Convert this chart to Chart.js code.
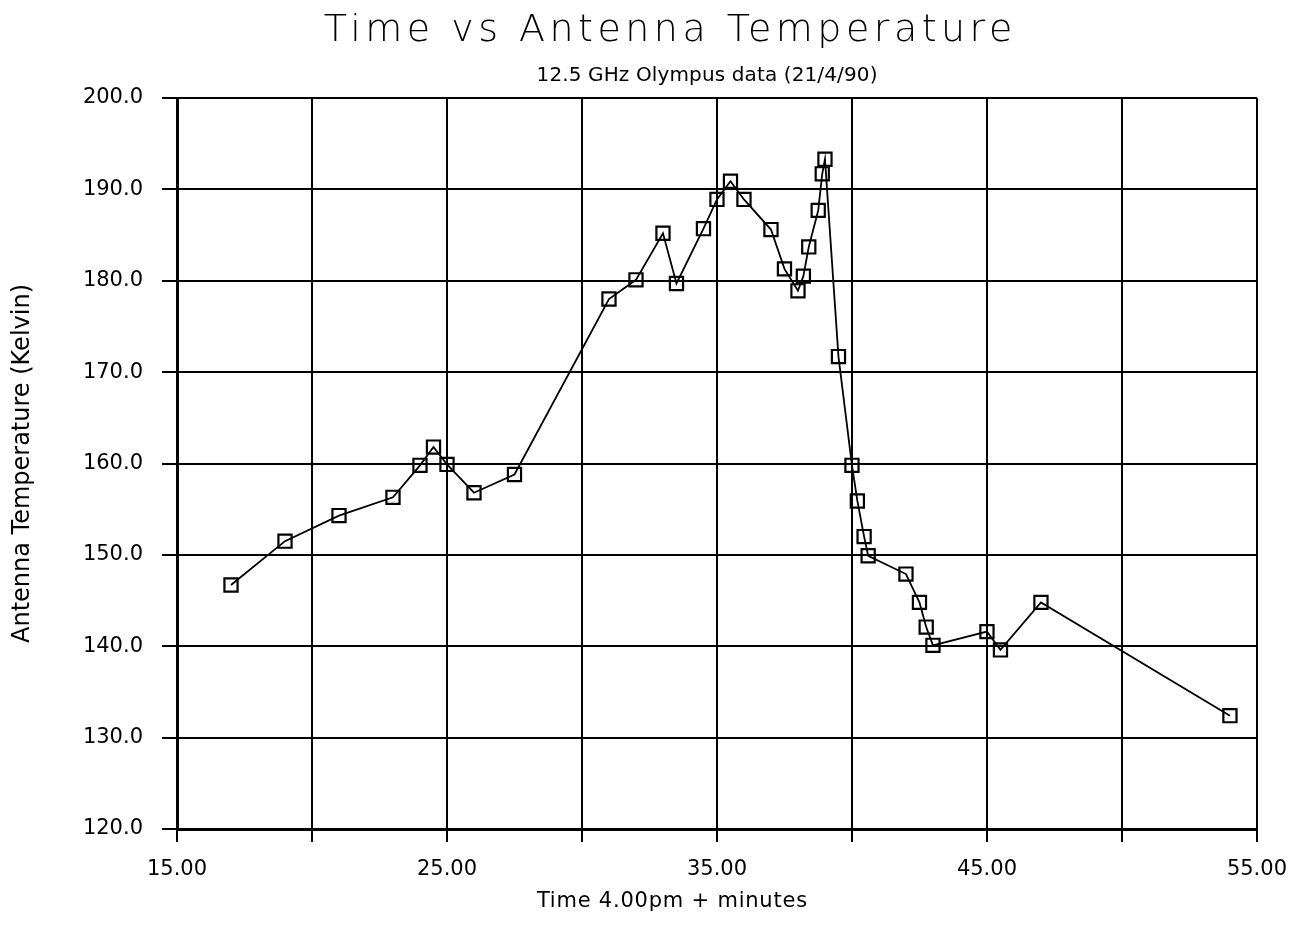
<!DOCTYPE html>
<html>
<head>
<meta charset="utf-8">
<script src="https://cdn.jsdelivr.net/npm/chart.js@4.4.1/dist/chart.umd.min.js"></script>
<style>
  body { margin:0; background:#fff; }
  #wrap { width:1302px; height:932px; }
</style>
</head>
<body>
<div id="wrap"><canvas id="tempChart" width="1302" height="932"></canvas></div>
<script>
// minutes after 4.00pm
const minutes = [17, 19, 21, 23, 24, 24.5, 25, 26, 27.5, 31, 32, 33, 33.5, 34.5, 35, 35.5, 36, 37, 37.5, 38, 38.2, 38.4, 38.75, 38.9, 39, 39.5, 40, 40.2, 40.45, 40.6, 42, 42.5, 42.75, 43, 45, 45.5, 47, 54];
// antenna temperature (Kelvin)
const temps = [146.7, 151.5, 154.3, 156.3, 159.8, 161.8, 159.9, 156.8, 158.8, 178.0, 180.1, 185.2, 179.7, 185.7, 188.9, 190.9, 188.9, 185.6, 181.3, 178.9, 180.5, 183.7, 187.7, 191.7, 193.3, 171.7, 159.8, 155.9, 152.0, 149.9, 147.9, 144.8, 142.1, 140.1, 141.6, 139.6, 144.8, 132.4];
const xLabelled = [15, 25, 35, 45, 55];

const titleText = "Time vs Antenna Temperature";
const subText = "12.5 GHz Olympus data (21/4/90)";
const xTitle = "Time 4.00pm + minutes";
const yTitle = "Antenna Temperature (Kelvin)";

const pts = minutes.map((m, i) => ({x: m, y: temps[i]}));

// spread a string out to a given width (the plotter font is very wide)
function wideText(ctx, txt, cx, y, width) {
  ctx.letterSpacing = "0px";
  const w = ctx.measureText(txt).width;
  const sp = Math.max(0, (width - w) / txt.length);
  ctx.letterSpacing = sp + "px";
  ctx.fillText(txt, cx + sp / 2, y);
  ctx.letterSpacing = "0px";
}

// titles drawn by hand, the original ones are not centred on the canvas
const textPlugin = {
  id: "texts",
  afterDraw(chart) {
    const ctx = chart.ctx;
    ctx.save();
    ctx.fillStyle = "#000";
    ctx.textAlign = "center";
    ctx.textBaseline = "alphabetic";
    ctx.font = '200 38px "DejaVu Sans", sans-serif';
    wideText(ctx, titleText, 668, 41, 693);
    ctx.font = '20px "DejaVu Sans", sans-serif';
    wideText(ctx, subText, 707, 81, 341);
    ctx.font = '21px "DejaVu Sans", sans-serif';
    wideText(ctx, xTitle, 672, 907, 271);
    ctx.restore();
  }
};

new Chart(document.getElementById("tempChart").getContext("2d"), {
  type: "scatter",
  data: {
    datasets: [{
      data: pts,
      showLine: true,
      borderColor: "#000",
      borderWidth: 1.8,
      pointStyle: "rect",
      pointRadius: 9.3,
      pointBorderWidth: 2.2,
      pointBorderColor: "#000",
      pointBackgroundColor: "rgba(0,0,0,0)",
      tension: 0
    }]
  },
  options: {
    responsive: false,
    animation: false,
    layout: { padding: { top: 98, right: 45, bottom: 0, left: 0 } },
    plugins: { legend: { display: false }, tooltip: { enabled: false } },
    scales: {
      x: {
        type: "linear", min: 15, max: 55,
        afterFit(s) { s.height = 103; },
        ticks: {
          stepSize: 5, padding: 15, color: "#000",
          font: { family: "DejaVu Sans", size: 21 },
          callback: v => xLabelled.includes(v) ? v.toFixed(2) : ""
        },
        grid: { color: "#000", lineWidth: 2, tickLength: 13, tickColor: "#000" },
        border: { color: "#000", width: 3 }
      },
      y: {
        min: 120, max: 200,
        afterFit(s) { s.width = 177; },
        ticks: {
          stepSize: 10, padding: 19, color: "#000",
          font: { family: "DejaVu Sans", size: 21 },
          callback: v => v.toFixed(1)
        },
        grid: { color: "#000", lineWidth: 2, tickLength: 15, tickColor: "#000" },
        border: { color: "#000", width: 3 },
        title: {
          display: true, text: yTitle, color: "#000",
          font: { family: "DejaVu Sans", size: 24 },
          padding: { top: 8, bottom: 0 }
        }
      }
    }
  },
  plugins: [textPlugin]
});
</script>
</body>
</html>
